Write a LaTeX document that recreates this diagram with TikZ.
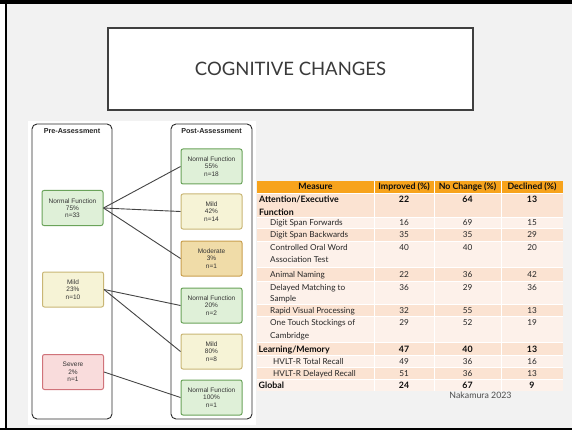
\documentclass[tikz,border=0pt]{standalone}
\usepackage{fontspec}
\setmainfont{Lato}
\newfontfamily\diagfont{Liberation Sans}
\definecolor{slidebg}{HTML}{F2F2F2}
\definecolor{titleline}{HTML}{404040}
\definecolor{titletext}{HTML}{3A3A3A}
\definecolor{grpline}{HTML}{2A2A2A}
\definecolor{linkc}{HTML}{444444}
\definecolor{nfFill}{HTML}{DFF0D8}\definecolor{nfLine}{HTML}{6AA35A}
\definecolor{miFill}{HTML}{F6F3D6}\definecolor{miLine}{HTML}{C9B675}
\definecolor{moFill}{HTML}{F0DCA8}\definecolor{moLine}{HTML}{C9A04F}
\definecolor{seFill}{HTML}{F9DCDC}\definecolor{seLine}{HTML}{D0737A}
\definecolor{thead}{HTML}{F7A31C}
\definecolor{tdark}{HTML}{FBE3D2}
\definecolor{tlight}{HTML}{FDF1EA}
\definecolor{ttext}{HTML}{262626}
\tikzset{
  group/.style={draw=grpline, line width=0.9pt, rounded corners=5pt, minimum width=#1, minimum height=295pt, inner sep=0pt},
  grouphead/.style={font=\diagfont\bfseries\fontsize{7.2}{8}\selectfont, text=black!85},
  state/.style={draw, line width=1pt, rounded corners=2pt, minimum width=61pt, minimum height=35pt,
    inner sep=0pt, align=center, text=black!80, font=\diagfont\fontsize{6.5}{7.3}\selectfont},
  nf/.style={state, fill=nfFill, draw=nfLine},
  mild/.style={state, fill=miFill, draw=miLine},
  moder/.style={state, fill=moFill, draw=moLine},
  sev/.style={state, fill=seFill, draw=seLine},
  link/.style={draw=linkc, line width=0.9pt},
  tcell/.style={inner sep=0pt, text=ttext, font=\fontsize{8.2}{12}\selectfont},
  tlab/.style={tcell, anchor=base west},
  tnum/.style={tcell, anchor=base},
  tbold/.style={text=black!95, font=\bfseries\fontsize{8.8}{12}\selectfont},
}
% one table row: top, bottom, fill colour
\newcommand\tabrow[3]{%
  \fill[#3] (257,#1) rectangle (563,#2);}
% the three percentages of one row: baseline, improved, no change, declined
\newcommand\tabnums[5][]{%
  \node[tnum,#1] at (404,#2) {#3};
  \node[tnum,#1] at (467.5,#2) {#4};
  \node[tnum,#1] at (532,#2) {#5};}
\begin{document}
\begin{tikzpicture}[x=1pt,y=-1pt]
\useasboundingbox (0,0) rectangle (572,430);
% slide background and frame
\fill[white] (0,0) rectangle (572,430);
\fill[slidebg] (5,0) rectangle (572,430);
\fill[black] (0,0) rectangle (572,4);
\fill[black] (4.5,0) rectangle (7.3,430);
\fill[black] (0,427.5) rectangle (572,430);

% title
\node[draw=titleline, fill=white, line width=1.2pt, minimum width=365pt, minimum height=82pt,
  text=titletext, font=\fontsize{18.5}{22}\selectfont] (title) at (290.5,69) {COGNITIVE CHANGES};

% flow diagram panel
\fill[white] (28,121) rectangle (256,425);
\node[group=80pt] (pre) at (72,271.5) {};
\node[group=81pt] (post) at (211.5,271.5) {};
\node[grouphead] (preh) at (72,131) {Pre-Assessment};
\node[grouphead] (posth) at (211.5,131) {Post-Assessment};

\node[nf] (pnf) at (72.5,208) {Normal Function\\75\%\\n=33};
\node[mild] (pmi) at (73,289.5) {Mild\\23\%\\n=10};
\node[sev] (pse) at (73,372) {Severe\\2\%\\n=1};

\node[nf] (qnfa) at (211.5,166.5) {Normal Function\\55\%\\n=18};
\node[mild] (qmia) at (211.5,211.5) {Mild\\42\%\\n=14};
\node[moder] (qmo) at (211.5,258.5) {Moderate\\3\%\\n=1};
\node[nf] (qnfb) at (211.5,305.5) {Normal Function\\20\%\\n=2};
\node[mild] (qmib) at (211.5,351.5) {Mild\\80\%\\n=8};
\node[nf] (qnfc) at (211.5,397.5) {Normal Function\\100\%\\n=1};

\draw[link] (pnf.east) -- (qnfa.west);
\draw[link] (pnf.east) -- (qmia.west);
\draw[link] (pnf.east) -- (qmo.west);
\draw[link] (pmi.east) -- (qnfb.west);
\draw[link] (pmi.east) -- (qmib.west);
\draw[link] (pse.east) -- (qnfc.west);

% results table
\tabrow{181}{193}{thead}
\tabrow{193}{217}{tdark}
\tabrow{217}{228}{tlight}
\tabrow{228}{241}{tdark}
\tabrow{241}{267}{tlight}
\tabrow{267}{281}{tdark}
\tabrow{281}{304}{tlight}
\tabrow{304}{316}{tdark}
\tabrow{316}{342}{tlight}
\tabrow{342}{355}{tdark}
\tabrow{355}{367}{tlight}
\tabrow{367}{379}{tdark}
\tabrow{379}{391}{tlight}
\foreach \yy in {193,217,228,241,267,281,304,316,342,355,367,379}
  \draw[white, line width=0.9pt] (257,\yy) -- (563,\yy);
\foreach \xx in {374,434,501}
  \draw[white, line width=0.9pt] (\xx,181) -- (\xx,391);

\node[tnum,tbold] (hm) at (315.5,190) {Measure};
\tabnums[tbold]{190}{Improved (\%)}{No Change (\%)}{Declined (\%)}

\node[tlab,tbold] (r1) at (259,203) {Attention/Executive};
\node[tlab,tbold] (r1b) at (259,215) {Function};
\tabnums[tbold]{203}{22}{64}{13}
\node[tlab] (r2) at (270,225.5) {Digit Span Forwards};
\tabnums{225.5}{16}{69}{15}
\node[tlab] (r3) at (270,237.5) {Digit Span Backwards};
\tabnums{237.5}{35}{35}{29}
\node[tlab] (r4) at (270,250) {Controlled Oral Word};
\node[tlab] (r4b) at (270,262.5) {Association Test};
\tabnums{250}{40}{40}{20}
\node[tlab] (r5) at (270,277) {Animal Naming};
\tabnums{277}{22}{36}{42}
\node[tlab] (r6) at (270,290) {Delayed Matching to};
\node[tlab] (r6b) at (270,301.5) {Sample};
\tabnums{290}{36}{29}{36}
\node[tlab] (r7) at (270,313) {Rapid Visual Processing};
\tabnums{313}{32}{55}{13}
\node[tlab] (r8) at (270,325) {One Touch Stockings of};
\node[tlab] (r8b) at (270,338) {Cambridge};
\tabnums{325}{29}{52}{19}
\node[tlab,tbold] (r9) at (258.5,352) {Learning/Memory};
\tabnums[tbold]{352}{47}{40}{13}
\node[tlab] (r10) at (273,364) {HVLT-R Total Recall};
\tabnums{364}{49}{36}{16}
\node[tlab] (r11) at (273,376) {HVLT-R Delayed Recall};
\tabnums{376}{51}{36}{13}
\node[tlab,tbold] (r12) at (258.5,388) {Global};
\tabnums[tbold]{388}{24}{67}{9}

\node[tcell, text=black!70, anchor=base, font=\fontsize{8.8}{12}\selectfont] (cite) at (480.5,398.5) {Nakamura 2023};
\end{tikzpicture}
\end{document}
